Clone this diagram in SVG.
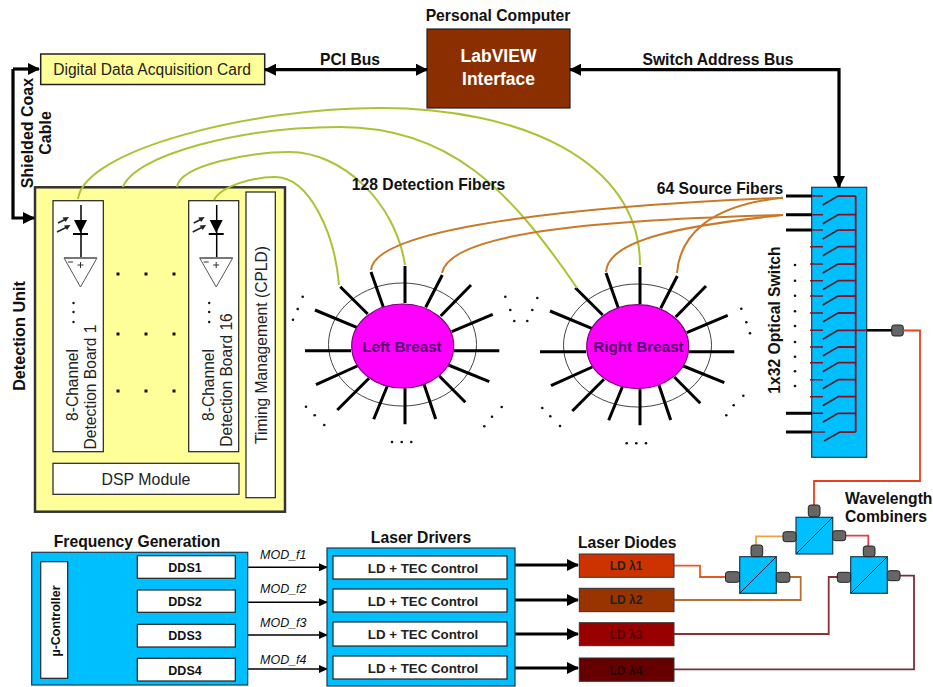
<svg xmlns="http://www.w3.org/2000/svg" xmlns:xlink="http://www.w3.org/1999/xlink" width="933" height="687" viewBox="0 0 933 687">
<style>
text{font-family:"Liberation Sans",Arial,sans-serif;fill:#111}
.b{font-weight:bold;font-size:15.700px}
.m{text-anchor:middle}
.box{stroke:#222;stroke-width:1.2;fill:#fff}
.yel{fill:#FFFF99;stroke:#222;stroke-width:1.5}
.yel2{fill:#FFFF99;stroke:#333;stroke-width:2.5}
.blue{fill:#00BFFF;stroke:#1a3a4a;stroke-width:1.2}
.tb{font-size:15.600px;fill:#222}
.sm{font-weight:bold;font-size:12.500px}
.mod{font-style:italic;font-size:12.500px}
.ld{font-weight:bold;font-size:12px;fill:#222}
.tec{font-weight:bold;font-size:13.300px;fill:#222}
.thick{fill:none;stroke:#000;stroke-width:3.2}
.thin{fill:none;stroke:#000;stroke-width:1.5}
.g{fill:none;stroke:#A8C435;stroke-width:2}
.o{fill:none;stroke:#C87A28;stroke-width:2}
.spoke{stroke:#000;stroke-width:3;fill:none}
.ring{fill:none;stroke:#444;stroke-width:1}
.breast{fill:#FF00FF;stroke:#7a007a;stroke-width:1.2}
.bt{font-weight:bold;font-size:15.200px;fill:#50006a;text-anchor:middle}
.conn{fill:#666;stroke:#222;stroke-width:1}
.arm{fill:none;stroke:#3a2030;stroke-width:1.6}
.stub{stroke:#8a0f20;stroke-width:1.5;fill:none}
.dk{stroke:#000;stroke-width:3;fill:none}
.dot{fill:#111}
</style>
<defs>
<marker id="ah" markerUnits="userSpaceOnUse" markerWidth="12" markerHeight="12" refX="11" refY="6" orient="auto-start-reverse"><path d="M0 0L12 6L0 12Z" fill="#000"/></marker>
<marker id="as" markerUnits="userSpaceOnUse" markerWidth="9" markerHeight="8" refX="8" refY="4" orient="auto"><path d="M0 0L9 4L0 8Z" fill="#000"/></marker>
<g id="spokes" class="spoke">
<path d="M405 303V266M383.300 307L371 272M425.700 307.300L442.300 275M440.700 316L471 285M451.700 331.700L492.700 314.300M454 350.700H499.300M448.300 365L489.300 381.700M439.300 376L465.300 402.300M424 384.300L435.700 419M405 388.300V424.300M387.300 386L373.700 419.300M369 378.300L337.300 410M357.300 366L316 384.700M351 350.700H305M357.300 327.700L315 310M367.700 314L340.300 286.700"/>
</g>
<g id="breastRing">
<ellipse class="ring" cx="402.500" cy="344.500" rx="74" ry="61.500"/>
</g>
<g id="detector">
<path d="M28 5V58" stroke="#000" stroke-width="1.500" fill="none"/>
<path d="M21 20H34L27.500 33Z" fill="#000"/>
<path d="M20 34H35" stroke="#000" stroke-width="2" fill="none"/>
<path d="M5 23L13 19M4 32L14 27" stroke="#222" stroke-width="1.500" fill="none"/>
<path d="M16 17L9.500 17.500L12.500 22ZM17.500 25L11 25.500L14 30Z" fill="#222"/>
<path d="M11 58H44L27.500 87Z" fill="#fff" stroke="#555" stroke-width="1"/>
<path d="M11 58H44" stroke="#777" stroke-width="2"/>
<path d="M24.500 65H30.500M27.500 62V68M15 62H20" stroke="#333" stroke-width="1"/>
<circle class="dot" cx="20.500" cy="103" r="1.200"/><circle class="dot" cx="20.500" cy="112" r="1.200"/><circle class="dot" cx="20.500" cy="122" r="1.200"/>
</g>
</defs>
<rect width="933" height="687" fill="#fff"/>

<g id="acq-card"><rect class="yel" x="40.700" y="54" width="224" height="30.500"/><text x="152" y="75" class="m" style="font-size:15.600px;fill:#222">Digital Data Acquisition Card</text></g>
<g id="pc"><text x="498" y="21" class="b m">Personal Computer</text><rect x="427" y="29" width="143" height="79" fill="#8B2F00" stroke="#222" stroke-width="1.200"/><text x="498.500" y="62" class="m" style="font-weight:bold;font-size:17.500px;fill:#fff">LabVIEW</text><text x="498.500" y="85" class="m" style="font-weight:bold;font-size:17.500px;fill:#fff">Interface</text></g>

<g id="detection-unit">
<rect class="yel2" x="35" y="187.300" width="250" height="324.400"/>
<text class="b m" style="font-size:16.200px" transform="translate(25 336) rotate(-90)">Detection Unit</text>
<g id="board-1"><rect class="box" x="53" y="200.700" width="50.300" height="251"/><use xlink:href="#detector" href="#detector" x="53" y="200"/><text class="tb m" transform="translate(78 385) rotate(-90)">8-Channel</text><text class="tb m" transform="translate(96 387) rotate(-90)">Detection Board 1</text></g>
<g id="board-16"><rect class="box" x="188.700" y="200.700" width="50" height="251"/><use xlink:href="#detector" href="#detector" x="188.700" y="200"/><text class="tb m" transform="translate(214 385) rotate(-90)">8-Channel</text><text class="tb m" transform="translate(232 380) rotate(-90)">Detection Board 16</text></g>
<g id="timing"><rect class="box" x="246" y="192" width="29.300" height="305.700"/><text class="tb m" transform="translate(266.500 345) rotate(-90)">Timing Management (CPLD)</text></g>
<g id="dsp"><rect class="box" x="53" y="463.300" width="186" height="31"/><text class="m" x="146" y="485" style="font-size:15.900px;fill:#222">DSP Module</text></g>
<g class="dot">
<rect x="116.500" y="272.500" width="3" height="3"/><rect x="144.500" y="272.500" width="3" height="3"/><rect x="172.500" y="272.500" width="3" height="3"/>
<rect x="116.500" y="332.500" width="3" height="3"/><rect x="144.500" y="332.500" width="3" height="3"/><rect x="172.500" y="332.500" width="3" height="3"/>
<rect x="116.500" y="389.500" width="3" height="3"/><rect x="144.500" y="389.500" width="3" height="3"/><rect x="172.500" y="389.500" width="3" height="3"/>
</g>
</g>

<g id="left-breast">
<use xlink:href="#breastRing" href="#breastRing"/><use xlink:href="#spokes" href="#spokes"/>
<ellipse class="breast" cx="402.700" cy="346" rx="51" ry="42"/><text class="bt" x="402" y="351.500">Left Breast</text>
</g>
<g id="right-breast" >
<use xlink:href="#breastRing" href="#breastRing" x="235" y="1"/><use xlink:href="#spokes" href="#spokes" x="235" y="1"/>
<ellipse class="breast" cx="637.700" cy="346.700" rx="51" ry="42"/><text class="bt" x="638.500" y="352">Right Breast</text>
</g>
<g class="dot" id="fiber-dots">
<circle cx="302.700" cy="296.700" r="1.300"/><circle cx="297.700" cy="309" r="1.300"/><circle cx="293" cy="319.700" r="1.300"/>
<circle cx="306" cy="406.700" r="1.300"/><circle cx="314.700" cy="415.300" r="1.300"/><circle cx="324.300" cy="425" r="1.300"/>
<circle cx="392" cy="442" r="1.300"/><circle cx="401.700" cy="442" r="1.300"/><circle cx="411.300" cy="442" r="1.300"/>
<circle cx="484.300" cy="426.300" r="1.300"/><circle cx="492" cy="416.700" r="1.300"/><circle cx="501.700" cy="407" r="1.300"/>
<circle cx="505.300" cy="296.700" r="1.300"/><circle cx="510.300" cy="310" r="1.300"/><circle cx="514.300" cy="321"  r="1.300"/>
<circle cx="537.300" cy="298" r="1.300"/><circle cx="532.300" cy="310" r="1.300"/><circle cx="527.300" cy="321" r="1.300"/>
<circle cx="542.300" cy="408" r="1.300"/><circle cx="550.300" cy="416.300" r="1.300"/><circle cx="560" cy="426" r="1.300"/>
<circle cx="626.700" cy="443.300" r="1.300"/><circle cx="636.300" cy="443.300" r="1.300"/><circle cx="646" cy="443.300" r="1.300"/>
<circle cx="726.300" cy="415.300" r="1.300"/><circle cx="733.700" cy="405.300" r="1.300"/><circle cx="743.300" cy="395.700" r="1.300"/>
<circle cx="741.300" cy="308.700" r="1.300"/><circle cx="746.300" cy="322.300" r="1.300"/><circle cx="750" cy="333.300" r="1.300"/>
</g>

<g id="switch">
<rect class="blue" x="811.700" y="187.300" width="55" height="270"/>
<path class="dk" d="M786 196H812M786 214.700H812M786 230H812M786 413.300H812M786 432H812"/>
<path class="stub" d="M812 196H823M812 214.700H823M812 230H823M810 246.700H823M810 264H823M810 280.700H823M810 296H823M810 313H823M810 330.300H823M810 347H823M810 362.700H823M810 379.700H823M810 396.700H823M812 413.300H823M812 432H825"/>
<path class="stub" style="stroke-width:1.800" d="M855.700 196V432M838 196H855.700M838 214.700H855.700M838 230H855.700M838 246.700H855.700M838 264H855.700M838 280.700H855.700M838 296H855.700M838 313H855.700M838 330.300H855.700M838 347H855.700M838 362.700H855.700M838 379.700H855.700M838 396.700H855.700M838 413.300H855.700M840 432H855.700M855.700 330.300H867"/>
<path class="arm" d="M822.700 205L838 196M822.700 223.700L838 214.700M822.700 239L838 230M822.700 255.700L838 246.700M822.700 273L838 264M822.700 289.700L838 280.700M822.700 305L838 296M822.700 322L838 313M822.700 339.300L838 330.300M822.700 356L838 347M822.700 371.700L838 362.700M822.700 388.700L838 379.700M822.700 405.700L838 396.700M822.700 422.300L838 413.300M824 441L840 432"/>
<path class="dk" d="M867 330.300H892" style="stroke-width:2.500"/>
<rect class="conn" x="891.700" y="325" width="11.600" height="11" rx="2.500"/>
<text class="b m" transform="translate(780 320) rotate(-90)">1x32 Optical Switch</text>
<g class="dot"><circle cx="795" cy="265" r="1.300"/><circle cx="795" cy="280.700" r="1.300"/><circle cx="795" cy="295.700" r="1.300"/><circle cx="795" cy="311.300" r="1.300"/><circle cx="795" cy="326" r="1.300"/><circle cx="795" cy="342" r="1.300"/><circle cx="795" cy="356.700" r="1.300"/><circle cx="795" cy="371.300" r="1.300"/><circle cx="795" cy="386" r="1.300"/></g>
</g>

<g id="connectors">
<path class="thick" marker-start="url(#ah)" marker-end="url(#ah)" d="M265 69.700H427"/>
<path class="thick" marker-start="url(#ah)" marker-end="url(#ah)" d="M570 69.700H839V187"/>
<path class="thick" marker-end="url(#ah)" d="M13 69H39"/>
<path class="thick" marker-end="url(#ah)" d="M13 69V218H34"/>
<g>
<path class="g" d="M78 199C84 150 250 108 380 108C520 108 640 160 640 265"/>
<path class="g" d="M123 187C135 155 240 127 340 127C450 127 510 190 577 288"/>
<path class="g" d="M177 187C180 165 250 152 290 152C340 152 395 200 405 265"/>
<path class="g" d="M214 200C222 185 255 177 275 177C310 177 335 235 339 285"/>
<path class="o" d="M371 270C375 225 600 205 783 197.700"/>
<path class="o" d="M442 273C450 232 600 220 783 215"/>
<path class="o" d="M606 272C608 238 690 225 783 215"/>
<path class="o" d="M677 273C680 235 710 205 783 197.700"/>
</g>
<g fill="none" stroke-width="1.800">
<path stroke="#E8401E" d="M903 330.500H920V481H814V505"/>
<path stroke="#E65A20" d="M674 565.700H700V577H725"/>
<path stroke="#B87030" d="M674 600H800.700V577H790"/>
<path stroke="#8B3038" d="M674 634H828.700V577H838"/>
<path stroke="#7A2E38" d="M674 669.300H914V575.700H900"/>
<path stroke="#F0A040" d="M756 545V536.300H783"/>
<path stroke="#EE3A50" d="M846 535.700H868.300V547"/>
</g>
<path class="thin" marker-end="url(#as)" d="M79 602.300H132"/>
<path class="thin" marker-end="url(#as)" d="M79 636H132"/>
<path class="thin" marker-end="url(#as)" d="M235 567.300H327"/>
<path class="thin" marker-end="url(#as)" d="M235 602.300H327"/>
<path class="thin" marker-end="url(#as)" d="M235 635H327"/>
<path class="thin" marker-end="url(#as)" d="M235 669H327"/>
<path class="thick" marker-end="url(#ah)" d="M507 565H578"/>
<path class="thick" marker-end="url(#ah)" d="M507 600H578"/>
<path class="thick" marker-end="url(#ah)" d="M507 634H578"/>
<path class="thick" marker-end="url(#ah)" d="M507 668H578"/>
</g>

<g id="labels">
<text class="b m" x="350" y="65">PCI Bus</text>
<text class="b m" x="718" y="65">Switch Address Bus</text>
<text class="b m" style="font-size:16px" transform="translate(33 133) rotate(-90)">Shielded Coax</text>
<text class="b m" style="font-size:16px" transform="translate(51 133) rotate(-90)">Cable</text>
<text class="b m" x="428.500" y="190">128 Detection Fibers</text>
<text class="b m" x="720" y="194">64 Source Fibers</text>
<text class="mod" x="260" y="559">MOD_f1</text>
<text class="mod" x="260" y="593">MOD_f2</text>
<text class="mod" x="260" y="627">MOD_f3</text>
<text class="mod" x="260" y="664">MOD_f4</text>
</g>

<g id="frequency-generation">
<text class="b m" x="137" y="547">Frequency Generation</text>
<rect class="blue" x="31.700" y="552.300" width="216" height="132.700"/>
<rect class="box" x="40.700" y="561.700" width="27" height="116.600"/>
<text class="sm m" transform="translate(60 621) rotate(-90)">µ-Controller</text>
<g id="dds1"><rect class="box" x="137.300" y="555.700" width="98" height="22.600"/><text class="sm m" x="185" y="572">DDS1</text></g>
<g id="dds2"><rect class="box" x="137.300" y="590" width="98" height="22.300"/><text class="sm m" x="185" y="606">DDS2</text></g>
<g id="dds3"><rect class="box" x="137.300" y="624.300" width="98" height="22.700"/><text class="sm m" x="185" y="640">DDS3</text></g>
<g id="dds4"><rect class="box" x="137.300" y="658.300" width="98" height="22.700"/><text class="sm m" x="185" y="675">DDS4</text></g>
</g>

<g id="laser-drivers">
<text class="b m" x="421" y="543">Laser Drivers</text>
<rect class="blue" x="327" y="548" width="188" height="138"/>
<g id="drv1"><rect class="box" x="333" y="556" width="174" height="23"/><text class="tec m" x="423" y="572.500">LD + TEC Control</text></g>
<g id="drv2"><rect class="box" x="333" y="589" width="174" height="23"/><text class="tec m" x="423" y="605.500">LD + TEC Control</text></g>
<g id="drv3"><rect class="box" x="333" y="622" width="174" height="24"/><text class="tec m" x="423" y="639">LD + TEC Control</text></g>
<g id="drv4"><rect class="box" x="333" y="656" width="174" height="23"/><text class="tec m" x="423" y="672.500">LD + TEC Control</text></g>
</g>

<g id="laser-diodes">
<text class="b" x="578" y="548">Laser Diodes</text>
<g id="ld1"><rect x="579.300" y="554" width="94.700" height="23.300" fill="#CC3300" stroke="#333"/><text class="ld m" x="626" y="570">LD λ1</text></g>
<g id="ld2"><rect x="579.300" y="588.300" width="94.700" height="23.400" fill="#993300" stroke="#333"/><text class="ld m" x="626" y="604">LD λ2</text></g>
<g id="ld3"><rect x="579.300" y="622.700" width="94.700" height="23" fill="#990000" stroke="#333"/><text class="ld m" x="626" y="639" style="fill:#550000">LD λ3</text></g>
<g id="ld4"><rect x="579.300" y="658" width="94.700" height="23.300" fill="#660000" stroke="#333"/><text class="ld m" x="626" y="675" style="fill:#2a0000">LD λ4</text></g>
</g>

<g id="combiners">
<text class="b" x="845" y="504">Wavelength</text>
<text class="b" x="845" y="522">Combiners</text>
<g id="combiner-top"><rect class="blue" x="796" y="517.300" width="36.700" height="36.700"/><path d="M796 554L832.700 517.300" stroke="#123" stroke-width="1"/><rect class="conn" x="808.300" y="505" width="11.700" height="11.700" rx="2.500"/><rect class="conn" x="783" y="531.700" width="13" height="10" rx="2.500"/><rect class="conn" x="832.700" y="530.700" width="13" height="10" rx="2.500"/></g>
<g id="combiner-left"><rect class="blue" x="739.700" y="556.700" width="36.600" height="36.600"/><path d="M739.700 593.300L776.300 556.700" stroke="#123" stroke-width="1"/><rect class="conn" x="751" y="545" width="11.700" height="11.700" rx="2.500"/><rect class="conn" x="725.500" y="571.700" width="14" height="10.600" rx="2.500"/><rect class="conn" x="776.300" y="572.300" width="13.500" height="10" rx="2.500"/></g>
<g id="combiner-right"><rect class="blue" x="850.700" y="556.700" width="36.600" height="36.600"/><path d="M850.700 593.300L887.300 556.700" stroke="#123" stroke-width="1"/><rect class="conn" x="863.300" y="546" width="11.700" height="10.700" rx="2.500"/><rect class="conn" x="837.300" y="572.300" width="13.400" height="10" rx="2.500"/><rect class="conn" x="887.300" y="570.700" width="12.700" height="10" rx="2.500"/></g>
</g>
</svg>
